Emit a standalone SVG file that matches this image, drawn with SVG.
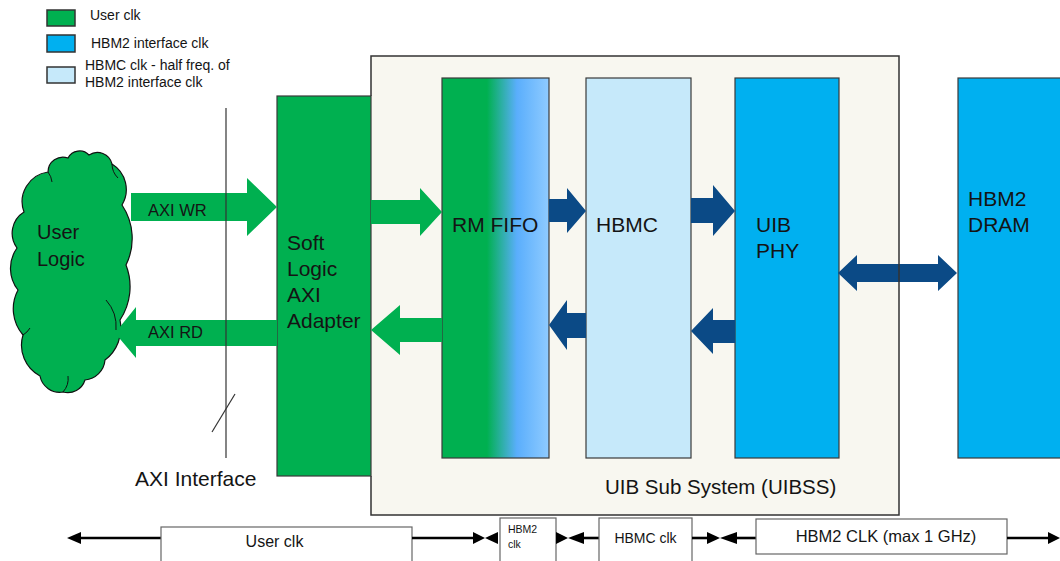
<svg xmlns="http://www.w3.org/2000/svg" width="1060" height="561" viewBox="0 0 1060 561">
<style>
  text { font-family: "Liberation Sans", Arial, sans-serif; fill: #141414; }
  .blk { stroke: #3a3a3a; stroke-width: 1.2; }
  .green { fill: #00b050; }
  .dblue { fill: #0b4a86; }
  .lbl { font-size: 21px; }
  .bar { stroke: #000; stroke-width: 2.6; fill: none; }
  .tri { fill: #000; }
  .clkbox { fill: #fff; stroke: #666; stroke-width: 1.2; }
</style>
<defs>
  <linearGradient id="fifoGrad" x1="0" y1="0" x2="1" y2="0">
    <stop offset="0" stop-color="#00b050"/>
    <stop offset="0.42" stop-color="#00b050"/>
    <stop offset="0.70" stop-color="#5aaefc"/>
    <stop offset="1" stop-color="#8fcbff"/>
  </linearGradient>
</defs>

<g id="legend">
  <rect x="47" y="10" width="28" height="16" class="green" stroke="#333" stroke-width="1.5"/>
  <text x="90" y="20" font-size="14">User clk</text>
  <rect x="47" y="35" width="28" height="17" fill="#00b0f0" stroke="#333" stroke-width="1.5"/>
  <text x="91" y="48" font-size="14">HBM2 interface clk</text>
  <rect x="47" y="67" width="28" height="16" fill="#c6e9fa" stroke="#333" stroke-width="1.5"/>
  <text x="85" y="70" font-size="14">HBMC clk - half freq. of</text>
  <text x="85" y="87" font-size="14">HBM2 interface clk</text>
</g>

<g id="uibss-bg">
  <rect x="371" y="56" width="528" height="459" fill="#f8f7f0"/>
</g>

<g id="user-logic">
  <path d="M 24,212 A 30,30 0 0 1 48,172 A 15,15 0 0 1 68,158 A 13,13 0 0 1 89,155 A 15,15 0 0 1 112,164 A 30,30 0 0 1 122,205 A 60,60 0 0 1 126,265 A 60,60 0 0 1 120,320 A 40,40 0 0 1 105,360 A 22,22 0 0 1 85,380 A 18,18 0 0 1 63,392 A 20,20 0 0 1 40,376 A 35,35 0 0 1 23,335 A 40,40 0 0 1 18,290 A 35,35 0 0 1 17,248 A 25,25 0 0 1 24,212 Z" class="green" stroke="#111" stroke-width="1.2"/>
  <path d="M 48,172 A 20,20 0 0 1 52,182 M 112,164 A 20,20 0 0 0 118,178 M 106,300 A 40,40 0 0 1 116,330 M 23,335 A 20,20 0 0 0 30,328 M 63,392 A 20,20 0 0 0 68,376" fill="none" stroke="#111" stroke-width="1"/>
  <text x="37" y="239" font-size="20">User</text>
  <text x="37" y="266" font-size="20">Logic</text>
</g>

<g id="adapter">
  <rect x="277" y="96" width="94" height="380" class="green blk"/>
  <text x="287" y="250" class="lbl">Soft</text>
  <text x="287" y="276" class="lbl">Logic</text>
  <text x="287" y="302" class="lbl">AXI</text>
  <text x="287" y="328" class="lbl">Adapter</text>
</g>

<g id="rm-fifo">
  <rect x="442" y="78" width="107" height="380" fill="url(#fifoGrad)" class="blk"/>
  <text x="452" y="232" class="lbl">RM FIFO</text>
</g>

<g id="hbmc">
  <rect x="586" y="78" width="105" height="380" fill="#c6e9fa" class="blk"/>
  <text x="596" y="232" class="lbl">HBMC</text>
</g>

<g id="uib-phy">
  <rect x="735" y="78" width="104" height="380" fill="#00b0f0" class="blk"/>
  <text x="756" y="232" class="lbl">UIB</text>
  <text x="756" y="258" class="lbl">PHY</text>
</g>

<g id="hbm2-dram">
  <rect x="958" y="78" width="110" height="380" fill="#00b0f0" class="blk"/>
  <text x="968" y="206" class="lbl">HBM2</text>
  <text x="968" y="232" class="lbl">DRAM</text>
</g>

<g id="connectors">
  <polygon class="green" points="131,193 247,193 247,178 277,207 247,236 247,221 131,221"/>
  <text x="148" y="216" font-size="16.5">AXI WR</text>
  <polygon class="green" points="277,320 136,320 136,307 115,333 136,358 136,346 277,346"/>
  <text x="148" y="338" font-size="16.5">AXI RD</text>
  <polygon class="green" points="371,200 420,200 420,188 442,212 420,236 420,224 371,224"/>
  <polygon class="green" points="442,318 400,318 400,305 371,330 400,355 400,342 442,342"/>
  <polygon class="dblue" points="549,199 567,199 567,188 586,211 567,233 567,222 549,222"/>
  <polygon class="dblue" points="691,198 713,198 713,185 735,211 713,236 713,223 691,223"/>
  <polygon class="dblue" points="586,313 567,313 567,300 549,325 567,350 567,338 586,338"/>
  <polygon class="dblue" points="735,320 713,320 713,308 691,331 713,354 713,343 735,343"/>
  <polygon class="dblue" points="838,273 857,255 857,264 938,264 938,255 957,273 938,291 938,282 857,282 857,291"/>
</g>

<g id="uibss">
  <path d="M 371,96 L 371,56 L 899,56 L 899,515 L 371,515 L 371,476" fill="none" stroke="#333" stroke-width="1.5"/>
  <text x="605" y="494" font-size="20.5">UIB Sub System (UIBSS)</text>
</g>

<g id="axi-interface">
  <line x1="226" y1="108" x2="226" y2="458" stroke="#333" stroke-width="1.2"/>
  <line x1="212" y1="432" x2="235" y2="394" stroke="#333" stroke-width="1.2"/>
  <text x="135" y="486" font-size="21">AXI Interface</text>
</g>

<g id="clock-bar">
  <line class="bar" x1="76" y1="538" x2="161" y2="538"/>
  <polygon class="tri" points="67,538 81,532 81,544"/>
  <rect class="clkbox" x="161" y="527" width="251" height="40"/>
  <text x="274.5" y="547" font-size="16" text-anchor="middle">User clk</text>
  <line class="bar" x1="412" y1="538" x2="475" y2="538"/>
  <polygon class="tri" points="473,532 485,538 473,544"/>
  <polygon class="tri" points="485,538 498,532 498,544"/>
  <rect class="clkbox" x="500" y="518" width="56" height="50"/>
  <text x="508" y="533" font-size="10.5">HBM2</text>
  <text x="508" y="548" font-size="10.5">clk</text>
  <polygon class="tri" points="556,532 568,538 556,544"/>
  <polygon class="tri" points="568,538 584,532 584,544"/>
  <line class="bar" x1="582" y1="538" x2="599" y2="538"/>
  <rect class="clkbox" x="599" y="518" width="93" height="50"/>
  <text x="645.5" y="543" font-size="14" text-anchor="middle">HBMC clk</text>
  <line class="bar" x1="692" y1="538" x2="709" y2="538"/>
  <polygon class="tri" points="707,532 720,538 707,544"/>
  <polygon class="tri" points="720,538 737,532 737,544"/>
  <line class="bar" x1="735" y1="538" x2="756" y2="538"/>
  <rect class="clkbox" x="756" y="519" width="251" height="35"/>
  <text x="886" y="542" font-size="16.5" text-anchor="middle">HBM2 CLK (max 1 GHz)</text>
  <line class="bar" x1="1007" y1="538" x2="1050" y2="538"/>
  <polygon class="tri" points="1048,532 1060,538 1048,544"/>
</g>
</svg>
